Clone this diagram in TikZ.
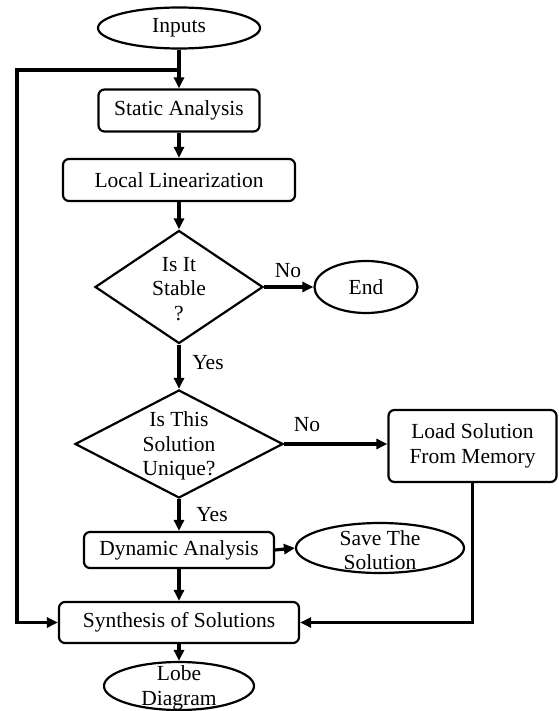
\documentclass[tikz,border=0pt]{standalone}
\usepackage{fontspec}
\setmainfont{Liberation Serif}
\usetikzlibrary{shapes.geometric,arrows.meta}
\begin{document}
\begin{tikzpicture}[x=1pt,y=-1pt,
  every node/.style={font=\fontsize{21.5}{24.5}\selectfont},
  box/.style={draw, line width=2.2pt, rounded corners=6pt, inner sep=0pt, align=center},
  ell/.style={draw, ellipse, line width=2.2pt, inner sep=0pt},
  dia/.style={draw, diamond, line width=2.2pt, inner sep=0pt},
  txt/.style={align=center, inner sep=0pt},
  arr/.style={line width=3.2pt, -{Triangle[length=11pt,width=10pt]}},
  ln/.style={line width=3.2pt}]
\fill[white] (0,0) rectangle (558,711);
\useasboundingbox (0,0) rectangle (558,711);

% nodes
\node[ell, minimum width=162pt, minimum height=41pt] (inputs) at (179,28) {Inputs};
\node[box, minimum width=161pt, minimum height=42pt] (static) at (179,110.5) {Static Analysis};
\node[box, minimum width=232pt, minimum height=42pt] (local) at (179,180) {Local Linearization};
\node[dia, minimum width=168pt, minimum height=113pt] (d1) at (179,287) {};
\node[txt] (d1t) at (179,289) {Is It\\Stable\\?};
\node[ell, minimum width=103pt, minimum height=52pt] (end) at (366,287) {End};
\node[dia, minimum width=208pt, minimum height=108pt] (d2) at (179,444) {};
\node[txt] (d2t) at (179,446) {Is This\\Solution\\Unique?};
\node[box, minimum width=168pt, minimum height=72pt] (load) at (472.5,446) {Load Solution\\From Memory};
\node[box, minimum width=190pt, minimum height=36pt] (dyn) at (179,550) {Dynamic Analysis};
\node[ell, minimum width=168pt, minimum height=50pt] (save) at (380,548) {};
\node[txt] (savet) at (380,550) {Save The\\Solution};
\node[box, minimum width=240pt, minimum height=41pt] (syn) at (179,622.5) {Synthesis of Solutions};
\node[ell, minimum width=150pt, minimum height=48pt] (lobe) at (179,686) {};
\node[txt] (lobet) at (179,688) {Lobe\\Diagram};

% labels
\node[txt] (no1) at (288,271) {No};
\node[txt] (yes1) at (208,363) {Yes};
\node[txt] (no2) at (307,425) {No};
\node[txt] (yes2) at (212,515) {Yes};

\coordinate (J) at (179,70);
\coordinate (LC) at (17,70);

% connectors
\draw[arr] (inputs) -- (static);
\draw[arr] (static) -- (local);
\draw[arr] (local) -- (d1.north);
\draw[arr] (d1.east) -- (end.west);
\draw[arr] (d1.south) -- (d2.north);
\draw[arr] (d2.east) -- (d2.east -| load.west);
\draw[arr] (d2.south) -- (dyn.north);
\draw[arr] (dyn.east) -- (save.west);
\draw[arr] (dyn) -- (syn);
\draw[arr] (load.south) |- (syn.east);
\draw[arr] (J) -- (LC) |- (syn.west);
\draw[arr] (syn) -- (lobe);
\end{tikzpicture}
\end{document}
